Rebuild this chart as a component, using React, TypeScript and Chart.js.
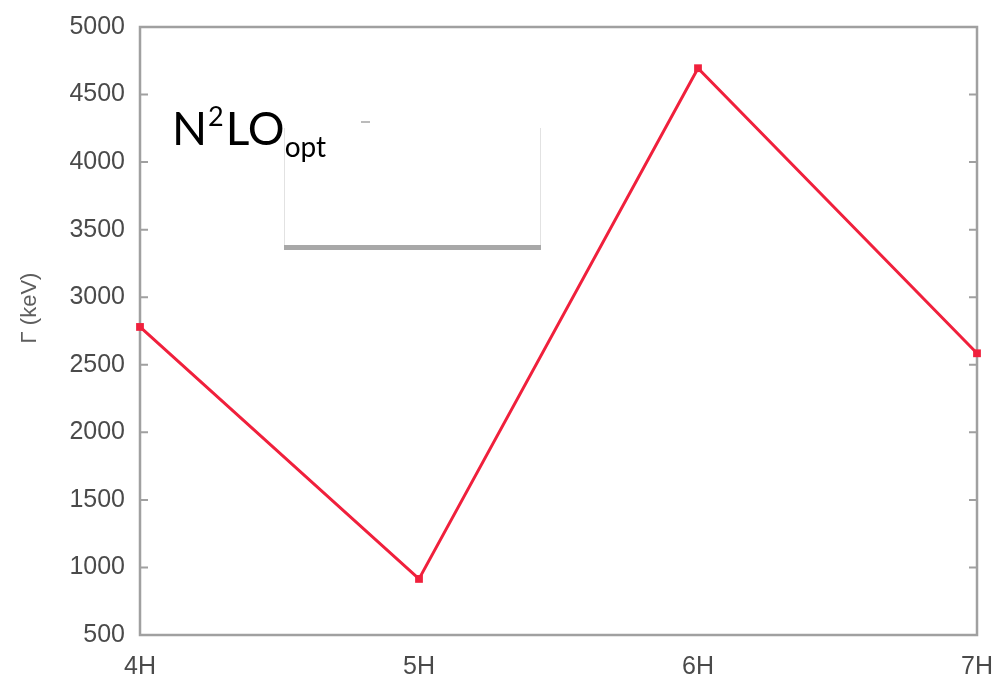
import React, { useEffect, useRef } from "react";
import { Chart, registerables } from "chart.js";

Chart.register(...registerables);

const categories: string[] = ["4H", "5H", "6H", "7H"];
const widthsKeV: number[] = [2780, 915, 4695, 2585];
const yMin = 500;
const yMax = 5000;
const yStep = 500;
const yAxisTitle = "Γ (keV)";
const annotationMain = ["N", "LO"];
const annotationSup = "2";
const annotationSub = "opt";

const FRAME = "#a0a0a0";
const RED = "#f0203c";
const TICK_FONT = "'Liberation Sans', Arial, sans-serif";

const framePlugin = {
  id: "frame",
  beforeDatasetsDraw(chart: any) {
    const { ctx, chartArea: a, scales } = chart;
    const y = scales.y;
    ctx.save();
    ctx.strokeStyle = FRAME;
    ctx.lineWidth = 2.5;
    ctx.strokeRect(a.left, a.top, a.right - a.left, a.bottom - a.top);
    ctx.lineWidth = 2;
    for (let v = yMin + yStep; v < yMax; v += yStep) {
      const py = y.getPixelForValue(v);
      ctx.beginPath();
      ctx.moveTo(a.left, py);
      ctx.lineTo(a.left + 8, py);
      ctx.moveTo(a.right, py);
      ctx.lineTo(a.right - 8, py);
      ctx.stroke();
    }
    ctx.restore();
  },
  afterDraw(chart: any) {
    const { ctx } = chart;
    ctx.save();
    // y axis title
    ctx.translate(30, 308);
    ctx.rotate(-Math.PI / 2);
    ctx.fillStyle = "#5e5e5e";
    ctx.font = `22px ${TICK_FONT}`;
    ctx.textAlign = "center";
    ctx.textBaseline = "middle";
    ctx.fillText(yAxisTitle, 0, 0);
    ctx.restore();

    // legend box remnant
    ctx.save();
    ctx.fillStyle = "#ffffff";
    ctx.fillRect(284, 128, 257, 122);
    ctx.strokeStyle = "#e2e2e2";
    ctx.lineWidth = 1;
    ctx.beginPath();
    ctx.moveTo(284.5, 128);
    ctx.lineTo(284.5, 246);
    ctx.moveTo(540.5, 128);
    ctx.lineTo(540.5, 246);
    ctx.stroke();
    ctx.fillStyle = "#a8a8a8";
    ctx.fillRect(284, 245, 257, 5);
    ctx.fillStyle = "#bbbbbb";
    ctx.fillRect(361, 121, 9, 2);
    ctx.restore();

    // N²LO_opt label
    ctx.save();
    ctx.fillStyle = "#000";
    ctx.textBaseline = "alphabetic";
    ctx.textAlign = "left";
    let x = 172;
    ctx.font = "46px Lato";
    ctx.fillText(annotationMain[0], x, 145);
    x += ctx.measureText(annotationMain[0]).width + 1;
    ctx.font = "27px Lato";
    ctx.fillText(annotationSup, x, 126);
    x += ctx.measureText(annotationSup).width + 2;
    ctx.font = "46px Lato";
    ctx.fillText(annotationMain[1], x, 145);
    x += ctx.measureText(annotationMain[1]).width;
    ctx.font = "28px Lato";
    ctx.fillText(annotationSub, x, 157);
    ctx.restore();
  },
};

export default function App() {
  const ref = useRef<HTMLCanvasElement | null>(null);

  useEffect(() => {
    if (!ref.current) return;
    const chart = new Chart(ref.current, {
      type: "line",
      data: {
        labels: categories,
        datasets: [
          {
            data: widthsKeV,
            borderColor: RED,
            backgroundColor: RED,
            borderWidth: 3,
            pointStyle: "rect",
            pointRadius: 5.5,
            pointBorderWidth: 0,
            pointBackgroundColor: RED,
            tension: 0,
            clip: false as any,
          },
        ],
      },
      options: {
        responsive: false,
        animation: false,
        layout: { padding: { left: 0, top: 27, right: 23, bottom: 0 } },
        plugins: {
          legend: { display: false },
          tooltip: { enabled: false },
        },
        scales: {
          x: {
            type: "category",
            offset: false,
            grid: { display: false, drawTicks: false },
            border: { display: false },
            ticks: {
              padding: 17,
              color: "#4a4a4a",
              font: { family: TICK_FONT, size: 25 },
              maxRotation: 0,
              autoSkip: false,
            },
            afterFit: (s: any) => {
              s.height = 54;
              s.paddingLeft = 0;
              s.paddingRight = 0;
            },
          },
          y: {
            type: "linear",
            min: yMin,
            max: yMax,
            grid: { display: false, drawTicks: false },
            border: { display: false },
            ticks: {
              stepSize: yStep,
              padding: 15,
              color: "#4a4a4a",
              font: { family: TICK_FONT, size: 25 },
              callback: (v: any) => String(v),
            },
            afterFit: (s: any) => {
              s.width = 140;
              s.paddingTop = 0;
              s.paddingBottom = 0;
            },
          },
        },
      },
      plugins: [framePlugin],
    });
    return () => chart.destroy();
  }, []);

  return (
    <div style={{ position: "fixed", left: 0, top: 0, width: 1000, height: 689, background: "#fff" }}>
      <canvas ref={ref} width={1000} height={689} style={{ display: "block" }} />
    </div>
  );
}
